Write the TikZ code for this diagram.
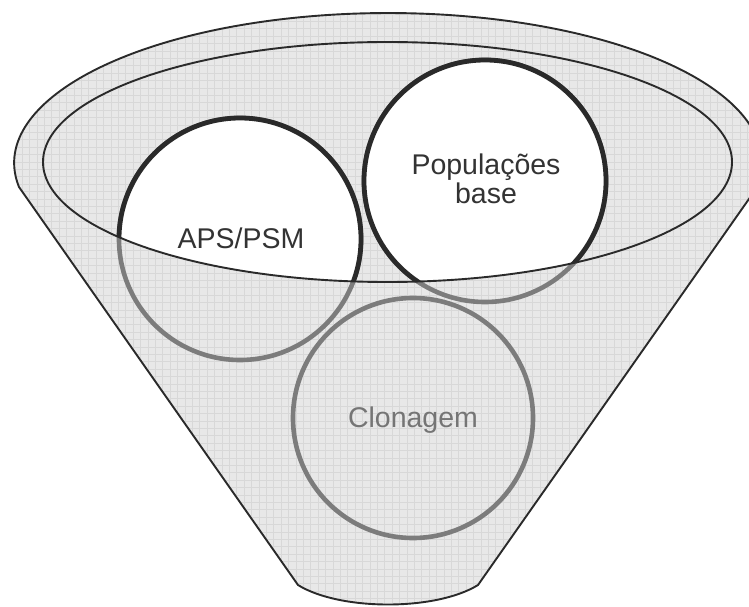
\documentclass[tikz,border=0pt]{standalone}
\usepackage{fontspec}
\setmainfont{Liberation Sans}
\definecolor{gridbase}{HTML}{E8E8E8}
\definecolor{gridline}{HTML}{D8D8D8}
\definecolor{inkdark}{HTML}{2A2A2A}
\definecolor{inkgrey}{HTML}{7C7C7C}
\definecolor{textdark}{HTML}{333333}
\definecolor{textgrey}{HTML}{757575}
\begin{document}
\begin{tikzpicture}[x=1pt,y=1pt,
  funnelpath/.style={insert path={(19,419) arc[start angle=189.2, end angle=-9.2, x radius=374pt, y radius=150pt] -- (478,21) .. controls (436,-5) and (340,-5) .. (298,21) -- cycle}},
  innerpath/.style={insert path={(ic) ellipse[x radius=344.5pt, y radius=120pt]}},
  outline/.style={draw=inkdark, line width=1.9pt},
  hotring/.style={draw=inkdark, line width=4.8pt},
  coldring/.style={draw=inkgrey, line width=4.6pt},
  gridlines/.style={draw=gridline, line width=0.7pt},
  lbl/.style={font=\fontsize{28.5}{30}\selectfont, align=center, inner sep=0pt},
]
\useasboundingbox (0,0) rectangle (749,606);
\coordinate (ic) at (387.5,444);
\coordinate (aps) at (240,367);
\coordinate (pop) at (485,425);
\coordinate (clo) at (413,188);
% funnel body with grid texture
\fill[gridbase, funnelpath];
\begin{scope}
  \clip[funnelpath];
  \draw[gridlines] (0,0) grid[step=7.4pt] (749,606);
\end{scope}
% grey rings (outside the inner ellipse)
\draw[coldring] (aps) circle[radius=121pt];
\draw[coldring] (pop) circle[radius=121pt];
\draw[coldring] (clo) circle[radius=120pt];
% white parts inside the inner ellipse
\begin{scope}
  \clip[innerpath];
  \fill[white] (aps) circle[radius=121pt];
  \fill[white] (pop) circle[radius=121pt];
  \draw[hotring] (aps) circle[radius=121pt];
  \draw[hotring] (pop) circle[radius=121pt];
\end{scope}
% outlines
\draw[outline, funnelpath];
\draw[outline, innerpath];
% labels
\node[lbl, text=textdark, anchor=base] (apslbl) at (241,358) {APS/PSM};
\node[lbl, text=textdark, anchor=base] (poplbl1) at (486,431.7) {Populações};
\node[lbl, text=textdark, anchor=base] (poplbl2) at (486,402) {base};
\node[lbl, text=textgrey, anchor=base] (clolbl) at (413,179) {Clonagem};
\end{tikzpicture}
\end{document}
